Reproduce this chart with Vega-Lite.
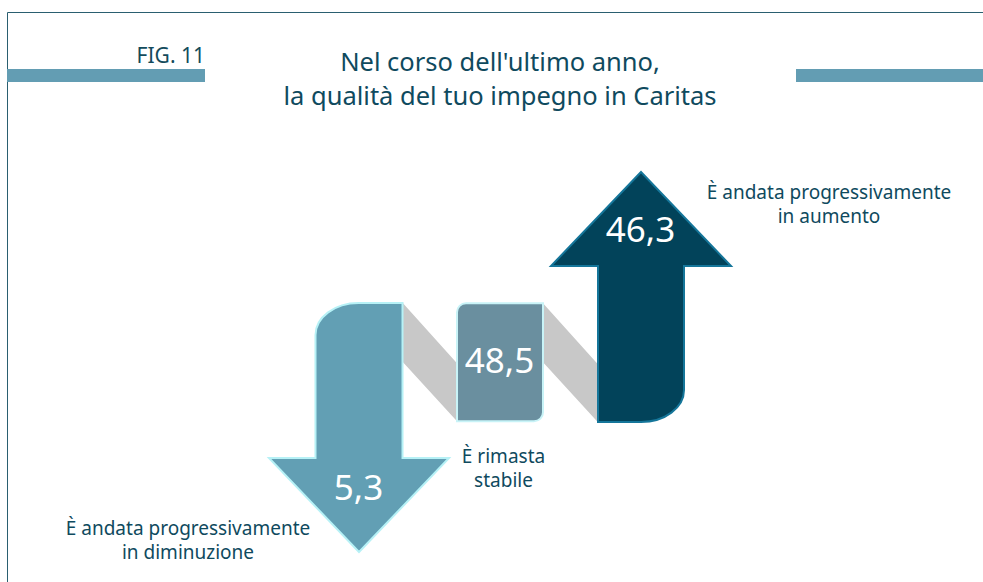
{
  "$schema": "https://vega.github.io/schema/vega-lite/v6.json",
  "width": 977,
  "height": 571,
  "autosize": {"type": "none"},
  "padding": {"left": 7, "top": 12, "right": 0, "bottom": 0},
  "background": "white",
  "config": {
    "view": {"stroke": "#2a5f70", "strokeWidth": 1},
    "font": "Noto Sans",
    "locale": {"number": {"decimal": ",", "thousands": ".", "grouping": [3], "currency": ["€", ""]}}
  },
  "title": {
    "text": ["Nel corso dell'ultimo anno,", "la qualità del tuo impegno in Caritas"],
    "anchor": "middle",
    "frame": "group",
    "offset": -98,
    "dx": 4.5,
    "fontSize": 25.5,
    "lineHeight": 34,
    "font": "Noto Sans",
    "fontWeight": "normal",
    "color": "#0f4a5e"
  },
  "data": {
    "values": [
      {"categoria": "diminuzione", "etichetta": "È andata progressivamente\nin diminuzione", "ordine": 1, "tendenza": -1, "valore": 5.3},
      {"categoria": "stabile", "etichetta": "È rimasta\nstabile", "ordine": 2, "tendenza": 0, "valore": 48.5},
      {"categoria": "aumento", "etichetta": "È andata progressivamente\nin aumento", "ordine": 3, "tendenza": 1, "valore": 46.3}
    ]
  },
  "layer": [
    {
      "data": {"values": [{}]},
      "mark": {"type": "rule", "stroke": "#639db3", "strokeWidth": 13, "strokeDash": [188, 591, 400], "strokeCap": "butt"},
      "encoding": {"y": {"value": 63.5}}
    },
    {
      "data": {"values": [{"figura": "FIG. 11"}]},
      "mark": {"type": "text", "align": "right", "baseline": "alphabetic", "fontSize": 21, "color": "#134b5c", "font": "Noto Sans"},
      "encoding": {"text": {"field": "figura"}, "x": {"value": 198}, "y": {"value": 51}}
    },
    {
      "transform": [{"filter": "datum.tendenza === 0"}],
      "mark": {"type": "point", "filled": true, "opacity": 1, "fill": "#c8c8c8", "strokeWidth": 0, "size": 4,
        "shape": "M-97,-59L-43,1L-43,59L-97,0Z M43,-59L97,1L97,59L43,0Z"},
      "encoding": {
        "x": {"field": "ordine", "type": "quantitative", "scale": {"domain": [1, 3], "range": [352, 634]}, "axis": null},
        "y": {"field": "tendenza", "type": "quantitative", "scale": {"domain": [-1, 1], "range": [415.5, 285]}, "axis": null}
      }
    },
    {
      "mark": {"type": "point", "filled": true, "opacity": 1, "strokeWidth": 2, "size": 4},
      "encoding": {
        "x": {"field": "ordine", "type": "quantitative", "scale": {"domain": [1, 3], "range": [352, 634]}, "axis": null},
        "y": {"field": "tendenza", "type": "quantitative", "scale": {"domain": [-1, 1], "range": [415.5, 285]}, "axis": null},
        "shape": {"field": "categoria", "type": "nominal", "legend": null,
          "scale": {"domain": ["diminuzione", "stabile", "aumento"],
            "range": [
              "M43.5,-124.5L43.5,30.5L90,30.5L0,124.5L-90,30.5L-43.5,30.5L-43.5,-92.5A43,32 0 0 1 -0.5,-124.5Z",
              "M-34,-59L43,-59L43,50A9,9 0 0 1 34,59L-43,59L-43,-50A9,9 0 0 1 -34,-59Z",
              "M0,-125L90,-31L43,-31L43,93A43,32 0 0 1 0,125L-43,125L-43,-31L-90,-31Z"
            ]}},
        "fill": {"field": "categoria", "type": "nominal", "legend": null,
          "scale": {"domain": ["diminuzione", "stabile", "aumento"], "range": ["#629fb4", "#6a8f9f", "#02435a"]}},
        "stroke": {"field": "categoria", "type": "nominal", "legend": null,
          "scale": {"domain": ["diminuzione", "stabile", "aumento"], "range": ["#b6f1f6", "#c8f3f7", "#15769a"]}}
      }
    },
    {
      "mark": {"type": "text", "align": "center", "baseline": "alphabetic", "fontSize": 35, "color": "white", "font": "Noto Sans"},
      "encoding": {
        "x": {"field": "ordine", "type": "quantitative", "scale": {"domain": [1, 3], "range": [351.5, 633.5]}, "axis": null},
        "y": {"field": "tendenza", "type": "quantitative", "scale": {"domain": [-1, 0, 1], "range": [488, 361, 230]}, "axis": null},
        "text": {"field": "valore", "type": "quantitative", "format": ".1f"}
      }
    },
    {
      "mark": {"type": "text", "align": "center", "baseline": "top", "fontSize": 19, "lineHeight": 23.5, "lineBreak": "\n", "color": "#0f4a5e", "font": "Noto Sans"},
      "encoding": {
        "x": {"field": "ordine", "type": "quantitative", "scale": {"domain": [1, 2, 3], "range": [181, 496.5, 822]}, "axis": null},
        "y": {"field": "tendenza", "type": "quantitative", "scale": {"domain": [-1, 0, 1], "range": [508, 436, 172]}, "axis": null},
        "text": {"field": "etichetta"}
      }
    }
  ],
  "resolve": {"scale": {"x": "independent", "y": "independent"}}
}
